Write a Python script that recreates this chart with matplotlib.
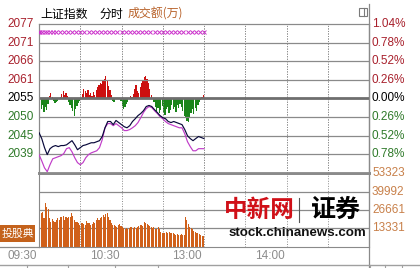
import numpy as np
import matplotlib
matplotlib.use("Agg")
from matplotlib import pyplot as plt
from matplotlib.patches import Rectangle
from matplotlib.lines import Line2D
from matplotlib.transforms import offset_copy

plt.rcParams['font.family'] = ['Liberation Sans', 'Noto Sans CJK SC', 'DejaVu Sans']

prev_close = 2055.4

# minutes since 09:30, index and average line every 2 minutes
line_minutes = np.arange(0, 121, 2)
index_line = [2045.6, 2043.9, 2041.3, 2039.3, 2041.0, 2041.6, 2041.9, 2041.6, 2041.9, 2041.9,
              2042.1, 2042.7, 2043.3, 2042.1, 2040.7, 2041.3, 2041.9, 2042.1, 2042.4, 2042.7,
              2042.7, 2043.0, 2043.3, 2044.5, 2047.0, 2048.8, 2048.8, 2047.9, 2049.1, 2048.5,
              2047.9, 2047.3, 2047.0, 2047.6, 2048.8, 2049.6, 2050.5, 2051.1, 2051.9, 2053.1,
              2053.4, 2053.1, 2052.2, 2051.4, 2050.5, 2049.9, 2049.6, 2048.8, 2048.5, 2048.8,
              2048.5, 2048.2, 2047.9, 2046.5, 2044.7, 2043.9, 2043.3, 2043.9, 2044.5, 2044.2,
              2043.9]
avg_line = [2039.3, 2037.5, 2035.5, 2034.4, 2036.4, 2038.1, 2038.4, 2038.7, 2039.0, 2039.6,
            2041.0, 2041.3, 2040.1, 2038.4, 2037.0, 2036.4, 2037.0, 2038.4, 2039.3, 2039.8,
            2040.1, 2040.4, 2041.3, 2043.6, 2047.0, 2048.2, 2048.2, 2047.6, 2048.2, 2047.6,
            2047.0, 2046.2, 2046.2, 2046.5, 2047.0, 2047.6, 2048.5, 2049.9, 2051.4, 2052.5,
            2053.1, 2052.8, 2051.9, 2051.1, 2050.2, 2049.6, 2048.8, 2048.2, 2047.9, 2047.6,
            2047.3, 2047.0, 2047.0, 2045.3, 2043.0, 2041.6, 2040.4, 2040.4, 2041.0, 2041.0,
            2041.0]

# one bar per minute
bar_minutes = np.arange(120)
buy_sell = [-12, -10, -6, -13, -8, -11, -5, 3, 6, 2,
            -2, -4, -3, -2, 0, 2, 5, 8, 4, 6,
            3, -3, -6, -9, -12, -17, -10, -7, -4, -2,
            1, 5, 10, 8, 6, 9, 4, 6, 3, 7,
            4, 9, 12, 14, 16, 15, 18, 20, 23, 19,
            13, 9, 4, -2, -3, 1, 0, 1, 0, -2,
            -7, -10, -8, -5, -3, 1, 3, 2, 5, 10,
            14, 8, 6, 12, 16, 19, 22, 23, 20, 16,
            10, 4, 0, -3, -8, -12, -9, -14, -11, -7,
            -13, -16, -10, -8, -14, -11, -6, -10, -8, -13,
            -6, -9, -5, -8, -12, -17, -19, -22, -23, -18,
            -14, -10, -15, -9, -12, -6, -3, -1, 2, 4]
volume = [50700, 24300, 25400, 21000, 31500, 29000, 27200, 20700, 18200, 20000,
          18700, 17800, 19500, 21100, 19500, 21800, 21800, 22300, 19500, 21800,
          20700, 21800, 21800, 24700, 22300, 19500, 18200, 18200, 17100, 15900,
          17500, 17100, 16400, 15900, 18700, 17500, 17100, 15900, 16800, 18200,
          17100, 19500, 20700, 19500, 21000, 21800, 23100, 21800, 23500, 24700,
          21800, 19500, 17100, 15900, 15500, 15100, 14600, 15900, 16400, 15100,
          14600, 13800, 12800, 13500, 12800, 13500, 14600, 14200, 13500, 14600,
          13500, 14600, 15100, 15500, 15900, 15100, 18200, 17100, 16400, 15900,
          15100, 14600, 13500, 14200, 13000, 12800, 14200, 12800, 11000, 10300,
          9900, 10300, 11000, 10300, 11000, 10300, 9900, 9900, 9400, 8600,
          9400, 8600, 8600, 9400, 8600, 8600, 21800, 19500, 16400, 14600,
          13500, 13000, 11500, 11000, 10300, 9900, 9400, 8600, 8200, 7900]

price_labels = ['2077', '2071', '2066', '2061', '2055', '2050', '2045', '2039']
pct_labels = ['1.04%', '0.78%', '0.52%', '0.26%', '0.00%', '0.26%', '0.52%', '0.78%']
vol_labels = ['53323', '39992', '26661', '13331']
vol_top = 53323
time_labels = ['09:30', '10:30', '13:00', '14:00']
time_ticks = [0, 60, 120, 180]
mark_minutes = [0, 1, 2, 4, 6, 8, 10, 12, 15, 18, 21, 24, 27, 30, 33, 36, 39, 42, 45, 48,
                51, 54, 57, 60, 63, 66, 69, 72, 75, 78, 81, 84, 87, 90, 93, 96, 99, 102,
                105, 108, 111, 114, 117, 120]

W, H = 420, 268
fig = plt.figure(figsize=(4.2, 2.68), dpi=100)


def fx(x):
    return x / W


def fy(y):
    return 1 - y / H


L, R, T, M, B = 39, 369, 24, 173, 247
axb = fig.add_axes([fx(L), fy(M), fx(R) - fx(L), fy(T) - fy(M)])
ax = fig.add_axes([fx(L), fy(M), fx(R) - fx(L), fy(T) - fy(M)])
axv = fig.add_axes([fx(L), fy(B), fx(R) - fx(L), fy(M) - fy(B)])
ax.patch.set_alpha(0)
axb.set_zorder(1)
ax.set_zorder(2)

grid_c = '#8a8a8a'
step = 0.0026
levels = [prev_close * (1 + step * k) for k in range(4, -5, -1)]
lo, hi = prev_close * (1 - 4 * step), prev_close * (1 + 4 * step)

for a in (ax, axb, axv):
    a.set_xlim(0, 240)
    a.set_xticks([])
    a.set_yticks([])
    for s in a.spines.values():
        s.set_color(grid_c)
        s.set_linewidth(0.8)
    for m in range(30, 240, 30):
        a.axvline(m, color='#8a8a8a', lw=0.7, ls=(0, (1, 1.6)), zorder=0)

ax.set_ylim(lo, hi)
axb.set_ylim(-74.5, 74.5)
axv.set_ylim(0, vol_top)
ax.spines['bottom'].set_linewidth(2)
axv.spines['top'].set_linewidth(2)

for k, v in enumerate(levels[1:-1]):
    ax.axhline(v, color='#6e6e6e' if k == 3 else grid_c, lw=2 if k == 3 else 0.9, zorder=1)
for v in vol_labels[1:]:
    axv.axhline(float(v), color=grid_c, lw=0.9, zorder=0)

# buy / sell strength bars around previous close
bs = np.array(buy_sell)
axb.bar(bar_minutes + 0.6, bs, width=0.85,
        color=np.where(bs > 0, '#cc1010', '#1a851a'), linewidth=0, zorder=2)

ax.plot(line_minutes, avg_line, color='#c03cc8', lw=0.85, zorder=3)
ax.plot(line_minutes, index_line, color='#08083a', lw=0.85, zorder=4)

ax.plot(mark_minutes, [prev_close * 1.0093] * len(mark_minutes), ls='none', marker='x',
        ms=3, mew=0.7, color='#cc33cc', zorder=4)

axv.bar(bar_minutes + 0.6, volume, width=0.8, color='#d0601a', linewidth=0, zorder=2)

# axis labels
ytr = ax.get_yaxis_transform()
for k, (v, lab, pl) in enumerate(zip(levels[:-1], price_labels, pct_labels)):
    c = '#a8202c' if k < 4 else ('#000000' if k == 4 else '#2f7a2a')
    ax.text(-5 / 330, v, lab, transform=ytr, ha='right', va='center', fontsize=8.5, color=c)
    ax.text(1 + 3 / 330, v, pl, transform=ytr, ha='left', va='center', fontsize=8.5, color=c)

vtr = axv.get_yaxis_transform()
for lab in vol_labels:
    axv.text(1 + 3 / 330, float(lab), lab, transform=vtr, ha='left', va='center',
             fontsize=8.5, color='#c8804a')

xtr = offset_copy(axv.get_xaxis_transform(), fig=fig, x=-2, y=0, units='dots')
for t, lab in zip(time_ticks, time_labels):
    axv.text(t, -9 / 74, lab, transform=xtr, ha='right', va='center', fontsize=8.5, color='#8c8c8c')

# title row
cjk = ['Noto Sans CJK SC', 'DejaVu Sans']
fig.text(fx(40), fy(14), '上证指数', family=cjk, fontsize=8.6, va='center', color='#000000')
fig.text(fx(100), fy(14), '分时', family=cjk, fontsize=8.6, va='center', color='#000000')
fig.text(fx(128), fy(14), '成交额(万)', family=cjk, fontsize=8.6, va='center', color='#b8622a')
fig.add_artist(Rectangle((fx(359), fy(16)), fx(8), fy(8) - fy(16), transform=fig.transFigure,
                         fill=False, ec='#7a7a7a', lw=0.8))
fig.add_artist(Line2D([fx(364), fx(364)], [fy(8), fy(16)], transform=fig.transFigure,
                      color='#7a7a7a', lw=0.8))

# frame lines outside the axes
fig.add_artist(Line2D([fx(R), fx(R)], [fy(4), fy(268)], transform=fig.transFigure, color=grid_c, lw=0.9))
fig.add_artist(Line2D([fx(0), fx(L)], [fy(B), fy(B)], transform=fig.transFigure, color=grid_c, lw=0.9))
fig.add_artist(Line2D([fx(0), fx(420)], [fy(265), fy(265)], transform=fig.transFigure, color='#a0a0a0', lw=1))
for x in (27, 68, 115, 158, 370, 385, 402):
    fig.add_artist(Line2D([fx(x), fx(x)], [fy(265), fy(268)], transform=fig.transFigure,
                          color='#a0a0a0', lw=0.8))

# watermark
fig.text(fx(224), fy(210), '中新网', family=cjk, fontsize=17, fontweight='bold',
         va='center', color='#d01018')
fig.add_artist(Line2D([fx(299), fx(299)], [fy(198), fy(222)], transform=fig.transFigure,
                      color='#555555', lw=0.8))
fig.text(fx(311), fy(210), '证券', family=cjk, fontsize=18, fontweight='bold',
         va='center', color='#000000')
fig.text(fx(297), fy(233), 'stock.chinanews.com', fontsize=9.6, fontweight='bold',
         ha='center', va='center', color='#111111')

# small badge at left
fig.add_artist(Rectangle((fx(0), fy(242)), fx(35), fy(225) - fy(242), transform=fig.transFigure,
                         color='#c4621c', lw=0))
fig.text(fx(34), fy(233.5), '投股典', family=cjk, fontsize=7.8, ha='right', va='center',
         color='#ffffff')

fig.savefig('out.png', dpi=100)
